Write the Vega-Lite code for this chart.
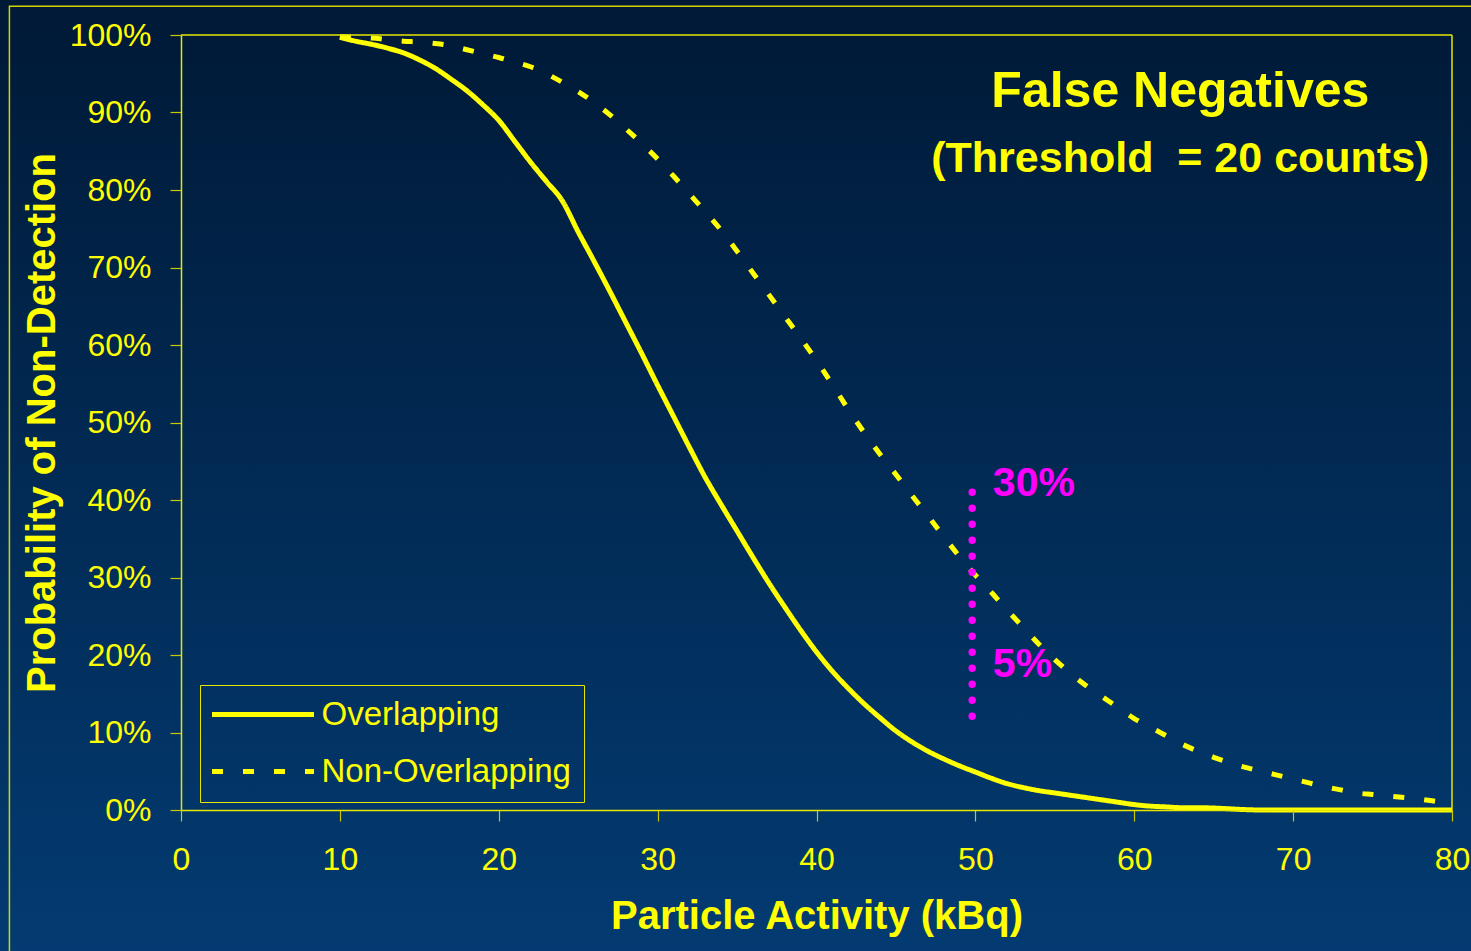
{
  "$schema": "https://vega.github.io/schema/vega-lite/v6.json",
  "width": 1271,
  "height": 775,
  "autosize": {"type": "none"},
  "padding": {"left": 181, "top": 35, "right": 19, "bottom": 141},
  "background": "#02284f",
  "config": {
    "view": {"stroke": null},
    "font": "Liberation Sans",
    "axis": {
      "domainColor": "#e6e600",
      "domainWidth": 1.5,
      "tickColor": "#c8c800",
      "tickWidth": 1.2,
      "tickSize": 11,
      "labelColor": "#ffff00",
      "labelFont": "Liberation Sans",
      "labelFontSize": 32,
      "titleColor": "#ffff00",
      "titleFont": "Liberation Sans",
      "titleFontSize": 40,
      "titleFontWeight": "bold",
      "grid": false
    },
    "legend": {
      "orient": "none",
      "legendX": 19,
      "legendY": 650,
      "direction": "vertical",
      "strokeColor": "#e6e600",
      "padding": 13,
      "symbolType": "M-6,0H6",
      "symbolSize": 289,
      "symbolOffset": 33.5,
      "symbolStrokeWidth": 5,
      "symbolStrokeColor": "#ffff00",
      "symbolFillColor": "transparent",
      "labelFont": "Liberation Sans",
      "labelFontSize": 33,
      "labelColor": "#ffff00",
      "labelOffset": 42,
      "labelLimit": 400,
      "rowPadding": 23
    }
  },
  "datasets": {
    "curves": [
      {"kBq": 10, "pct": 99.7, "series": "Overlapping"},
      {"kBq": 11, "pct": 99.2, "series": "Overlapping"},
      {"kBq": 12, "pct": 98.8, "series": "Overlapping"},
      {"kBq": 13, "pct": 98.3, "series": "Overlapping"},
      {"kBq": 14, "pct": 97.7, "series": "Overlapping"},
      {"kBq": 15, "pct": 96.8, "series": "Overlapping"},
      {"kBq": 16, "pct": 95.7, "series": "Overlapping"},
      {"kBq": 17, "pct": 94.3, "series": "Overlapping"},
      {"kBq": 18, "pct": 92.8, "series": "Overlapping"},
      {"kBq": 19, "pct": 91.0, "series": "Overlapping"},
      {"kBq": 20, "pct": 89.0, "series": "Overlapping"},
      {"kBq": 21, "pct": 86.3, "series": "Overlapping"},
      {"kBq": 22, "pct": 83.6, "series": "Overlapping"},
      {"kBq": 23, "pct": 81.1, "series": "Overlapping"},
      {"kBq": 24, "pct": 78.6, "series": "Overlapping"},
      {"kBq": 25, "pct": 74.6, "series": "Overlapping"},
      {"kBq": 26, "pct": 70.8, "series": "Overlapping"},
      {"kBq": 27, "pct": 66.9, "series": "Overlapping"},
      {"kBq": 28, "pct": 62.9, "series": "Overlapping"},
      {"kBq": 29, "pct": 58.9, "series": "Overlapping"},
      {"kBq": 30, "pct": 54.8, "series": "Overlapping"},
      {"kBq": 31, "pct": 50.8, "series": "Overlapping"},
      {"kBq": 32, "pct": 46.8, "series": "Overlapping"},
      {"kBq": 33, "pct": 42.9, "series": "Overlapping"},
      {"kBq": 34, "pct": 39.4, "series": "Overlapping"},
      {"kBq": 35, "pct": 36.0, "series": "Overlapping"},
      {"kBq": 36, "pct": 32.6, "series": "Overlapping"},
      {"kBq": 37, "pct": 29.3, "series": "Overlapping"},
      {"kBq": 38, "pct": 26.2, "series": "Overlapping"},
      {"kBq": 39, "pct": 23.2, "series": "Overlapping"},
      {"kBq": 40, "pct": 20.4, "series": "Overlapping"},
      {"kBq": 41, "pct": 17.9, "series": "Overlapping"},
      {"kBq": 42, "pct": 15.7, "series": "Overlapping"},
      {"kBq": 43, "pct": 13.7, "series": "Overlapping"},
      {"kBq": 44, "pct": 11.9, "series": "Overlapping"},
      {"kBq": 45, "pct": 10.2, "series": "Overlapping"},
      {"kBq": 46, "pct": 8.8, "series": "Overlapping"},
      {"kBq": 47, "pct": 7.6, "series": "Overlapping"},
      {"kBq": 48, "pct": 6.6, "series": "Overlapping"},
      {"kBq": 49, "pct": 5.7, "series": "Overlapping"},
      {"kBq": 50, "pct": 4.9, "series": "Overlapping"},
      {"kBq": 51, "pct": 4.1, "series": "Overlapping"},
      {"kBq": 52, "pct": 3.4, "series": "Overlapping"},
      {"kBq": 53, "pct": 2.9, "series": "Overlapping"},
      {"kBq": 54, "pct": 2.5, "series": "Overlapping"},
      {"kBq": 55, "pct": 2.2, "series": "Overlapping"},
      {"kBq": 56, "pct": 1.9, "series": "Overlapping"},
      {"kBq": 57, "pct": 1.6, "series": "Overlapping"},
      {"kBq": 58, "pct": 1.3, "series": "Overlapping"},
      {"kBq": 59, "pct": 1.0, "series": "Overlapping"},
      {"kBq": 60, "pct": 0.7, "series": "Overlapping"},
      {"kBq": 61, "pct": 0.5, "series": "Overlapping"},
      {"kBq": 62, "pct": 0.4, "series": "Overlapping"},
      {"kBq": 63, "pct": 0.3, "series": "Overlapping"},
      {"kBq": 64, "pct": 0.3, "series": "Overlapping"},
      {"kBq": 65, "pct": 0.25, "series": "Overlapping"},
      {"kBq": 66, "pct": 0.15, "series": "Overlapping"},
      {"kBq": 67, "pct": 0.05, "series": "Overlapping"},
      {"kBq": 68, "pct": 0, "series": "Overlapping"},
      {"kBq": 70, "pct": 0, "series": "Overlapping"},
      {"kBq": 72.5, "pct": 0, "series": "Overlapping"},
      {"kBq": 75, "pct": 0, "series": "Overlapping"},
      {"kBq": 77.5, "pct": 0, "series": "Overlapping"},
      {"kBq": 80, "pct": 0, "series": "Overlapping"},
      {"kBq": 10, "pct": 99.8, "series": "Non-Overlapping"},
      {"kBq": 11, "pct": 99.7, "series": "Non-Overlapping"},
      {"kBq": 12, "pct": 99.6, "series": "Non-Overlapping"},
      {"kBq": 13, "pct": 99.4, "series": "Non-Overlapping"},
      {"kBq": 14, "pct": 99.2, "series": "Non-Overlapping"},
      {"kBq": 15, "pct": 99.1, "series": "Non-Overlapping"},
      {"kBq": 16, "pct": 98.9, "series": "Non-Overlapping"},
      {"kBq": 17, "pct": 98.6, "series": "Non-Overlapping"},
      {"kBq": 18, "pct": 98.1, "series": "Non-Overlapping"},
      {"kBq": 19, "pct": 97.6, "series": "Non-Overlapping"},
      {"kBq": 20, "pct": 97.1, "series": "Non-Overlapping"},
      {"kBq": 21, "pct": 96.5, "series": "Non-Overlapping"},
      {"kBq": 22, "pct": 95.9, "series": "Non-Overlapping"},
      {"kBq": 23, "pct": 95.0, "series": "Non-Overlapping"},
      {"kBq": 24, "pct": 93.9, "series": "Non-Overlapping"},
      {"kBq": 25, "pct": 92.7, "series": "Non-Overlapping"},
      {"kBq": 26, "pct": 91.3, "series": "Non-Overlapping"},
      {"kBq": 27, "pct": 89.7, "series": "Non-Overlapping"},
      {"kBq": 28, "pct": 87.9, "series": "Non-Overlapping"},
      {"kBq": 29, "pct": 86.0, "series": "Non-Overlapping"},
      {"kBq": 30, "pct": 84.0, "series": "Non-Overlapping"},
      {"kBq": 31, "pct": 81.8, "series": "Non-Overlapping"},
      {"kBq": 32, "pct": 79.5, "series": "Non-Overlapping"},
      {"kBq": 33, "pct": 77.2, "series": "Non-Overlapping"},
      {"kBq": 34, "pct": 74.8, "series": "Non-Overlapping"},
      {"kBq": 35, "pct": 72.1, "series": "Non-Overlapping"},
      {"kBq": 36, "pct": 69.3, "series": "Non-Overlapping"},
      {"kBq": 37, "pct": 66.5, "series": "Non-Overlapping"},
      {"kBq": 38, "pct": 63.7, "series": "Non-Overlapping"},
      {"kBq": 39, "pct": 60.9, "series": "Non-Overlapping"},
      {"kBq": 40, "pct": 58.0, "series": "Non-Overlapping"},
      {"kBq": 41, "pct": 54.9, "series": "Non-Overlapping"},
      {"kBq": 42, "pct": 51.7, "series": "Non-Overlapping"},
      {"kBq": 43, "pct": 48.7, "series": "Non-Overlapping"},
      {"kBq": 44, "pct": 45.9, "series": "Non-Overlapping"},
      {"kBq": 45, "pct": 43.3, "series": "Non-Overlapping"},
      {"kBq": 46, "pct": 40.6, "series": "Non-Overlapping"},
      {"kBq": 47, "pct": 38.0, "series": "Non-Overlapping"},
      {"kBq": 48, "pct": 35.3, "series": "Non-Overlapping"},
      {"kBq": 49, "pct": 32.7, "series": "Non-Overlapping"},
      {"kBq": 50, "pct": 30.3, "series": "Non-Overlapping"},
      {"kBq": 51, "pct": 28.1, "series": "Non-Overlapping"},
      {"kBq": 52, "pct": 25.8, "series": "Non-Overlapping"},
      {"kBq": 53, "pct": 23.6, "series": "Non-Overlapping"},
      {"kBq": 54, "pct": 21.4, "series": "Non-Overlapping"},
      {"kBq": 55, "pct": 19.4, "series": "Non-Overlapping"},
      {"kBq": 56, "pct": 17.6, "series": "Non-Overlapping"},
      {"kBq": 57, "pct": 16.0, "series": "Non-Overlapping"},
      {"kBq": 58, "pct": 14.6, "series": "Non-Overlapping"},
      {"kBq": 59, "pct": 13.2, "series": "Non-Overlapping"},
      {"kBq": 60, "pct": 11.8, "series": "Non-Overlapping"},
      {"kBq": 61, "pct": 10.7, "series": "Non-Overlapping"},
      {"kBq": 62, "pct": 9.6, "series": "Non-Overlapping"},
      {"kBq": 63, "pct": 8.5, "series": "Non-Overlapping"},
      {"kBq": 64, "pct": 7.6, "series": "Non-Overlapping"},
      {"kBq": 65, "pct": 6.8, "series": "Non-Overlapping"},
      {"kBq": 66, "pct": 6.1, "series": "Non-Overlapping"},
      {"kBq": 67, "pct": 5.5, "series": "Non-Overlapping"},
      {"kBq": 68, "pct": 5.0, "series": "Non-Overlapping"},
      {"kBq": 69, "pct": 4.5, "series": "Non-Overlapping"},
      {"kBq": 70, "pct": 4.0, "series": "Non-Overlapping"},
      {"kBq": 71, "pct": 3.5, "series": "Non-Overlapping"},
      {"kBq": 72, "pct": 3.0, "series": "Non-Overlapping"},
      {"kBq": 73, "pct": 2.6, "series": "Non-Overlapping"},
      {"kBq": 74, "pct": 2.2, "series": "Non-Overlapping"},
      {"kBq": 75, "pct": 2.0, "series": "Non-Overlapping"},
      {"kBq": 76, "pct": 1.8, "series": "Non-Overlapping"},
      {"kBq": 77, "pct": 1.6, "series": "Non-Overlapping"},
      {"kBq": 78, "pct": 1.4, "series": "Non-Overlapping"},
      {"kBq": 79, "pct": 1.1, "series": "Non-Overlapping"},
      {"kBq": 80, "pct": 0.9, "series": "Non-Overlapping"}
    ],
    "notes": [
      {"note": "30%", "kBq": 51.1, "pct": 40.5},
      {"note": "5%", "kBq": 51.1, "pct": 17.2}
    ],
    "headings": [
      {"line": "False Negatives", "kBq": 62.9, "pct": 90.7, "size": "big"},
      {"line": "(Threshold\u00a0\u00a0= 20 counts)", "kBq": 62.9, "pct": 82.3, "size": "small"}
    ]
  },
  "encoding": {
    "x": {
      "type": "quantitative",
      "scale": {"domain": [0, 80], "nice": false},
      "axis": {"values": [0, 10, 20, 30, 40, 50, 60, 70, 80], "title": "Particle Activity (kBq)", "labelPadding": 23, "titlePadding": 21, "labelFlush": false, "zindex": 2}
    },
    "y": {
      "type": "quantitative",
      "scale": {"domain": [0, 100], "nice": false},
      "axis": {"values": [0, 10, 20, 30, 40, 50, 60, 70, 80, 90, 100], "labelExpr": "datum.value + '%'", "title": "Probability of Non-Detection", "labelPadding": 19, "titlePadding": 7, "labelFlush": false, "zindex": 2}
    }
  },
  "layer": [
    {
      "description": "slide backdrop with a vertical navy gradient",
      "data": {"values": [{}]},
      "mark": {
        "type": "rect",
        "fill": {
          "gradient": "linear",
          "x1": 0, "y1": 0, "x2": 0, "y2": 1,
          "stops": [
            {"offset": 0, "color": "#001936"},
            {"offset": 1, "color": "#033b72"}
          ]
        }
      },
      "encoding": {
        "x": {"datum": -12},
        "x2": {"datum": 82},
        "y": {"datum": -19},
        "y2": {"datum": 105}
      }
    },
    {
      "description": "slide frame",
      "data": {"values": [{}]},
      "mark": {"type": "rect", "fill": null, "stroke": "#d4d400", "strokeWidth": 1.5},
      "encoding": {
        "x": {"datum": -10.8},
        "x2": {"datum": 95},
        "y": {"datum": 103.7},
        "y2": {"datum": -30}
      }
    },
    {
      "data": {"name": "curves"},
      "mark": {"type": "line", "color": "#ffff00", "strokeWidth": 5, "interpolate": "monotone"},
      "encoding": {
        "x": {"field": "kBq"},
        "y": {"field": "pct"},
        "strokeDash": {
          "field": "series", "type": "nominal",
          "scale": {"domain": ["Overlapping", "Non-Overlapping"], "range": [[1, 0], [11, 20]]},
          "legend": {"title": null}
        }
      }
    },
    {
      "description": "dotted marker at 50 kBq",
      "data": {"values": [{}]},
      "mark": {"type": "rule", "color": "#ff00ff", "strokeWidth": 7.5, "strokeCap": "round", "strokeDash": [0.1, 15.9]},
      "encoding": {
        "x": {"datum": 49.8},
        "y": {"datum": 41},
        "y2": {"datum": 11.9}
      }
    },
    {
      "data": {"name": "notes"},
      "mark": {"type": "text", "color": "#ff00ff", "font": "Liberation Sans", "fontWeight": "bold", "fontSize": 41, "align": "left", "baseline": "alphabetic"},
      "encoding": {
        "x": {"field": "kBq"},
        "y": {"field": "pct"},
        "text": {"field": "note"}
      }
    },
    {
      "data": {"name": "headings"},
      "transform": [{"filter": "datum.size == 'big'"}],
      "mark": {"type": "text", "color": "#ffff00", "font": "Liberation Sans", "fontWeight": "bold", "fontSize": 50, "align": "center", "baseline": "alphabetic"},
      "encoding": {
        "x": {"field": "kBq"},
        "y": {"field": "pct"},
        "text": {"field": "line"}
      }
    },
    {
      "data": {"name": "headings"},
      "transform": [{"filter": "datum.size == 'small'"}],
      "mark": {"type": "text", "color": "#ffff00", "font": "Liberation Sans", "fontWeight": "bold", "fontSize": 43, "align": "center", "baseline": "alphabetic"},
      "encoding": {
        "x": {"field": "kBq"},
        "y": {"field": "pct"},
        "text": {"field": "line"}
      }
    },
    {
      "description": "top edge of the plot frame",
      "data": {"values": [{}]},
      "mark": {"type": "rule", "color": "#e6e600", "strokeWidth": 1.5},
      "encoding": {
        "x": {"datum": 0},
        "x2": {"datum": 80},
        "y": {"datum": 100}
      }
    },
    {
      "description": "right edge of the plot frame",
      "data": {"values": [{}]},
      "mark": {"type": "rule", "color": "#e6e600", "strokeWidth": 1.5},
      "encoding": {
        "x": {"datum": 80},
        "y": {"datum": 0},
        "y2": {"datum": 100}
      }
    }
  ]
}
